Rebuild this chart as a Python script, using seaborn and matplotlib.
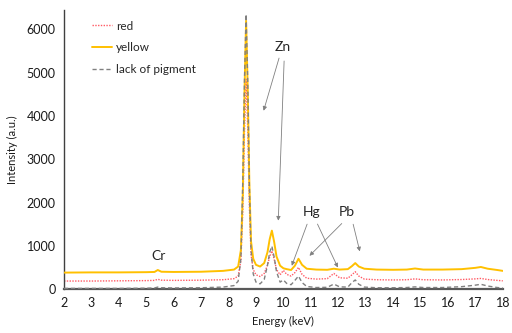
import matplotlib
matplotlib.use('Agg')
import matplotlib.pyplot as plt
import pandas as pd
import seaborn as sns

energy = [2.0, 3.0, 4.0, 5.0, 5.3, 5.42, 5.55, 6.0, 7.0, 7.8, 8.2, 8.35, 8.45, 8.52,
          8.58, 8.64, 8.70, 8.76, 8.82, 8.9, 9.0, 9.15, 9.3, 9.42, 9.5, 9.58, 9.66,
          9.75, 9.88, 10.0, 10.12, 10.28, 10.42, 10.55, 10.68, 10.85, 11.2, 11.6,
          11.84, 12.05, 12.35, 12.5, 12.62, 12.75, 12.95, 13.4, 14.0, 14.5, 14.8,
          15.1, 15.8, 16.5, 17.0, 17.2, 17.45, 17.8, 18.0]

yellow = [380, 385, 385, 390, 395, 440, 400, 395, 400, 420, 450, 520, 900, 2200,
          4500, 6200, 4600, 2400, 1100, 700, 560, 520, 600, 850, 1150, 1350, 1100,
          750, 540, 480, 460, 440, 540, 700, 560, 470, 450, 445,
          470, 450, 460, 530, 600, 520, 470, 450, 445, 450, 475,
          450, 450, 460, 490, 510, 470, 440, 420]

red = [185, 185, 190, 195, 200, 225, 205, 200, 205, 215, 240, 300, 650, 1800,
       3600, 4850, 3700, 1900, 800, 450, 330, 290, 360, 550, 750, 880, 700,
       450, 330, 430, 340, 300, 380, 500, 340, 250, 230, 240,
       360, 260, 250, 330, 400, 300, 230, 215, 210, 215, 235,
       215, 210, 220, 235, 245, 220, 200, 190]

no_pigment = [15, 15, 15, 20, 25, 45, 30, 25, 30, 45, 80, 180, 700, 2500,
              4800, 6350, 4800, 2400, 900, 350, 160, 120, 220, 550, 850, 990, 750,
              400, 160, 210, 130, 100, 200, 300, 150, 60, 35, 40,
              115, 50, 45, 150, 210, 110, 45, 30, 30, 35, 50,
              35, 35, 55, 90, 110, 70, 35, 25]

x_ticks = list(range(2, 19))
y_ticks = [0, 1000, 2000, 3000, 4000, 5000, 6000]

df = pd.DataFrame({'Energy': energy, 'red': red, 'yellow': yellow,
                   'lack of pigment': no_pigment})

sns.set_style('white')
plt.rcParams['font.family'] = ['Lato', 'DejaVu Sans']

fig, ax = plt.subplots(figsize=(5.12, 3.33), dpi=100)
fig.subplots_adjust(left=0.125, right=0.982, bottom=0.132, top=0.97)

sns.lineplot(data=df, x='Energy', y='red', ax=ax, color='#FF5A64', lw=1.0,
             linestyle=(0, (1, 1)), label='red', zorder=2)
sns.lineplot(data=df, x='Energy', y='yellow', ax=ax, color='#FFC000', lw=1.4,
             label='yellow', zorder=3)
sns.lineplot(data=df, x='Energy', y='lack of pigment', ax=ax, color='#808080',
             lw=1.0, linestyle=(0, (3, 2)), label='lack of pigment', zorder=4)

ax.set_xlim(2, 18)
ax.set_ylim(0, 6450)
ax.set_xticks(x_ticks)
ax.set_yticks(y_ticks)
ax.tick_params(axis='both', length=0, labelsize=9, colors='#1a1a1a', pad=6)
ax.set_xlabel('Energy (keV)', fontsize=8, color='#1a1a1a', labelpad=5)
ax.set_ylabel('Intensity (a.u.)', fontsize=8, color='#1a1a1a', labelpad=6)

for s in ['top', 'right']:
    ax.spines[s].set_visible(False)
ax.spines['left'].set_color('#404040')
ax.spines['left'].set_linewidth(1.0)
ax.spines['bottom'].set_color('#595959')
ax.spines['bottom'].set_linewidth(1.6)

leg = ax.legend(loc='upper left', bbox_to_anchor=(0.04, 1.0), frameon=False,
                fontsize=8.5, handlelength=1.7, handletextpad=0.3, labelspacing=0.9)

# Anotações dos elementos
arrow = dict(arrowstyle='-|>', color='#808080', lw=0.6, mutation_scale=6)
ax.text(9.97, 5590, 'Zn', fontsize=10, ha='center', va='center')
ax.annotate('', xy=(9.25, 4060), xytext=(9.87, 5400), arrowprops=arrow)
ax.annotate('', xy=(9.81, 1517), xytext=(10.03, 5335), arrowprops=arrow)
ax.text(11.02, 1778, 'Hg', fontsize=10, ha='center', va='center')
ax.annotate('', xy=(10.27, 478), xytext=(10.9, 1560), arrowprops=arrow)
ax.annotate('', xy=(12.03, 439), xytext=(11.2, 1560), arrowprops=arrow)
ax.text(12.33, 1778, 'Pb', fontsize=10, ha='center', va='center')
ax.annotate('', xy=(10.88, 723), xytext=(12.2, 1560), arrowprops=arrow)
ax.annotate('', xy=(12.81, 808), xytext=(12.52, 1560), arrowprops=arrow)
ax.text(5.44, 762, 'Cr', fontsize=10, ha='center', va='center')

plt.savefig('out.png', dpi=100)
